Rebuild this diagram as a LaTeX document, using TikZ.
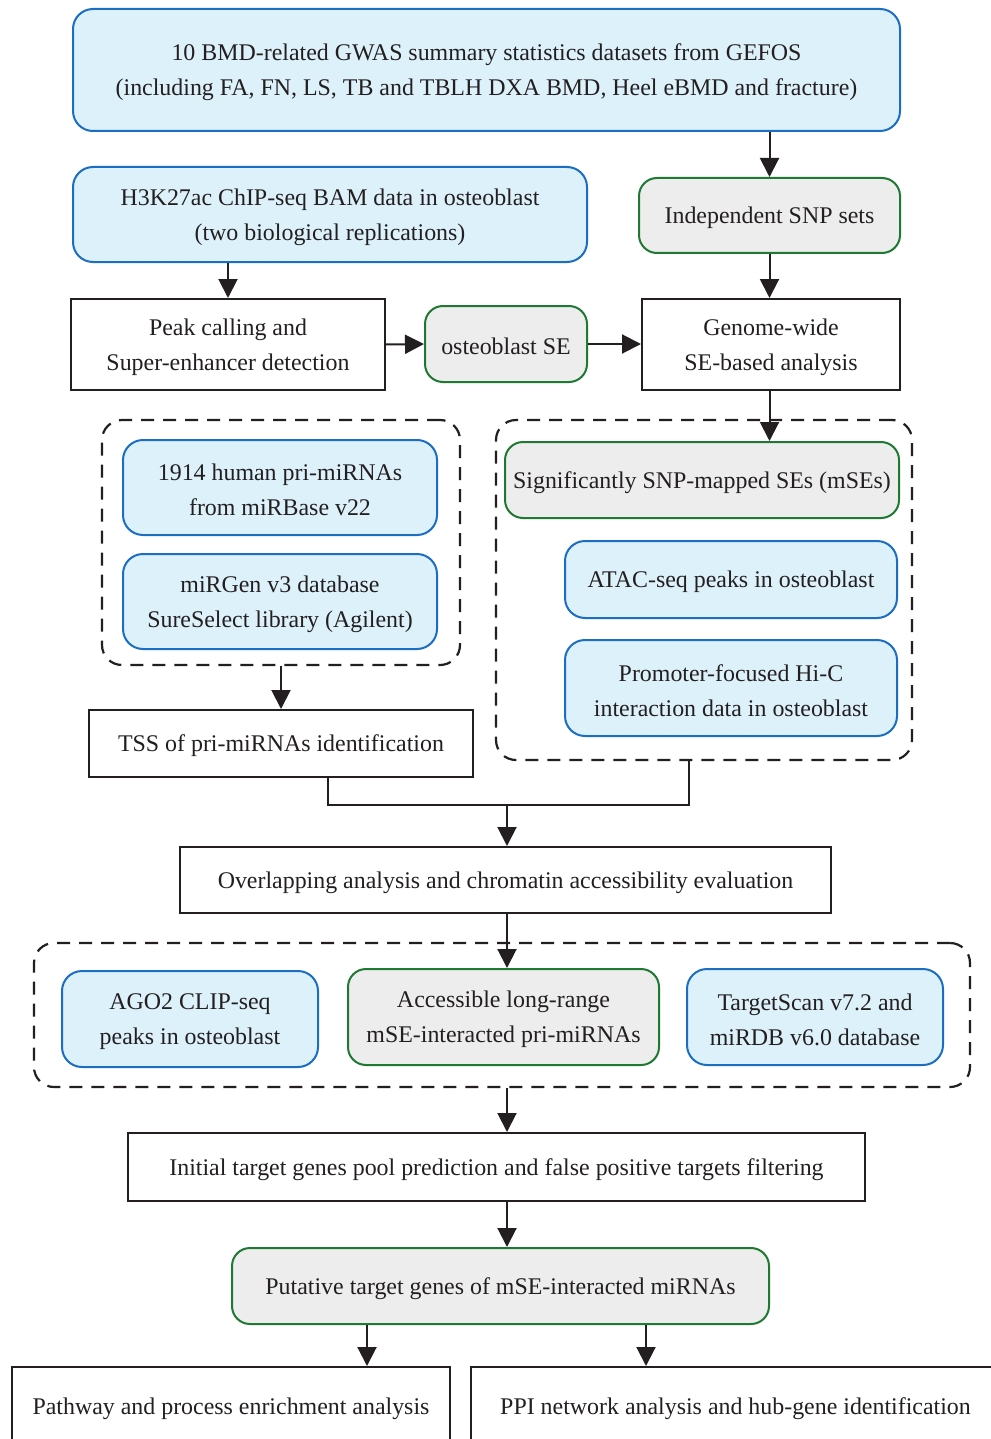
\documentclass[tikz,border=0pt]{standalone}
\usepackage{fontspec}
\setmainfont{Liberation Serif}
\usetikzlibrary{arrows.meta}
\definecolor{bfill}{HTML}{DDF1FB}
\definecolor{bline}{HTML}{1B6EC2}
\definecolor{gline}{HTML}{1E7A33}
\definecolor{gfill}{HTML}{EDEDED}
\definecolor{ink}{HTML}{231F20}
\newcommand\bx[7]{\node[#1, minimum width=#5pt-#3pt, minimum height=#6pt-#4pt] (#2) at ({(#3+#5)/2},{(#4+#6)/2}) {};
  \node[txt] (#2-t) at (#2.center) {#7};}
\begin{document}
\begin{tikzpicture}[x=1pt,y=-1pt, font=\fontsize{23.9}{35}\selectfont,
 box/.style={draw, line width=2pt, inner sep=0pt},
 txt/.style={align=center, inner sep=0pt, text=ink, yshift=-2.5pt},
 bluebox/.style={box, draw=bline, fill=bfill, rounded corners=20pt},
 greenbox/.style={box, draw=gline, fill=gfill, rounded corners=18pt},
 plainbox/.style={box, draw=ink},
 group/.style={draw=ink, line width=2.2pt, dash pattern=on 13pt off 9pt, rounded corners=20pt, inner sep=0pt},
 arr/.style={draw=ink, line width=2pt, -{Triangle[length=19pt,width=19pt]}},
 ln/.style={draw=ink, line width=2pt}]
\useasboundingbox (0,0) rectangle (990,1439);
\fill[white] (0,0) rectangle (990,1439);
\coordinate (c) at (507,0);
\coordinate (a1) at (367,0);
\coordinate (a2) at (646,0);
\coordinate (j) at (507,805);
% groups
\bx{group}{gL}{102}{420}{460}{665}{}
\bx{group}{gR}{496}{420}{912}{760}{}
\bx{group}{gB}{34}{943}{970}{1087}{}
% boxes
\bx{bluebox}{gwas}{73}{9}{900}{131}{10 BMD-related GWAS summary statistics datasets from GEFOS\\(including FA, FN, LS, TB and TBLH DXA BMD, Heel eBMD and fracture)}
\bx{bluebox}{h3}{73}{167}{587}{262}{H3K27ac ChIP-seq BAM data in osteoblast\\(two biological replications)}
\bx{greenbox}{snp}{639}{178}{900}{253}{Independent SNP sets}
\bx{plainbox}{peak}{71}{299}{385}{390}{Peak calling and\\Super-enhancer detection}
\bx{greenbox}{se}{425}{306}{587}{382}{osteoblast SE}
\bx{plainbox}{gw}{642}{299}{900}{390}{Genome-wide\\SE-based analysis}
\bx{bluebox}{pri}{123}{440}{437}{535}{1914 human pri-miRNAs\\from miRBase v22}
\bx{bluebox}{mirgen}{123}{554}{437}{649}{miRGen v3 database\\SureSelect library (Agilent)}
\bx{greenbox}{sig}{505}{442}{899}{518}{Significantly SNP-mapped SEs (mSEs)}
\bx{bluebox}{atac}{565}{541}{897}{618}{ATAC-seq peaks in osteoblast}
\bx{bluebox}{hic}{565}{640}{897}{736}{Promoter-focused Hi-C\\interaction data in osteoblast}
\bx{plainbox}{tss}{89}{710}{473}{777}{TSS of pri-miRNAs identification}
\bx{plainbox}{ov}{180}{847}{831}{913}{Overlapping analysis and chromatin accessibility evaluation}
\bx{bluebox}{ago}{62}{971}{318}{1067}{AGO2 CLIP-seq\\peaks in osteoblast}
\bx{greenbox}{acc}{348}{969}{659}{1065}{Accessible long-range\\mSE-interacted pri-miRNAs}
\bx{bluebox}{ts}{687}{969}{943}{1065}{TargetScan v7.2 and\\miRDB v6.0 database}
\bx{plainbox}{init}{128}{1133}{865}{1201}{Initial target genes pool prediction and false positive targets filtering}
\bx{greenbox}{put}{232}{1248}{769}{1324}{Putative target genes of mSE-interacted miRNAs}
\bx{plainbox}{pw}{12}{1367}{450}{1445}{Pathway and process enrichment analysis}
\bx{plainbox}{ppi}{471}{1367}{1000}{1445}{PPI network analysis and hub-gene identification}
% connectors
\draw[arr] (gwas.south -| snp.north) -- (snp.north);
\draw[arr] (peak.north |- h3.south) -- (peak.north);
\draw[arr] (snp.south) -- (gw.north -| snp.south);
\draw[arr] (peak.east) -- (se.west);
\draw[arr] (se.east) -- (gw.west |- se.east);
\draw[arr] (gw.south -| snp.south) -- (sig.north -| snp.south);
\draw[arr] (gL.south) -- (tss.north);
\draw[ln] ([xshift=47pt]tss.south) |- ([xshift=-15pt]gR.south |- j) -- ([xshift=-15pt]gR.south);
\draw[arr] (j) -- (ov.north -| j);
\draw[arr] (ov.south -| c) -- (acc.north -| c);
\draw[arr] (gB.south -| c) -- (init.north -| c);
\draw[arr] (init.south -| c) -- (put.north -| c);
\draw[arr] (put.south -| a1) -- (pw.north -| a1);
\draw[arr] (put.south -| a2) -- (ppi.north -| a2);
\end{tikzpicture}
\end{document}
